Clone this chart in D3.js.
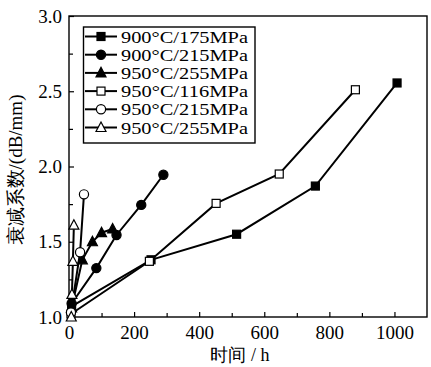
<!DOCTYPE html>
<html>
<head>
<meta charset="utf-8">
<script src="https://cdn.jsdelivr.net/npm/d3@7"></script>
<style>
  body { margin: 0; background: #fff; }
  svg { display: block; }
</style>
</head>
<body>
<svg width="431" height="367"></svg>
<script>
'use strict'

const SERIES = ['900°C/175MPa', '900°C/215MPa', '950°C/255MPa', '950°C/116MPa', '950°C/215MPa', '950°C/255MPa'];
const SHAPES = ['square', 'circle', 'triangle', 'square', 'circle', 'triangle'];
const FILLED = [true, true, true, false, false, false];

// [hours, attenuation] per series
const s900_175 = [[8, 1.07], [252, 1.38], [515, 1.55], [757, 1.87], [1008, 2.555]];
const s900_215 = [[8, 1.09], [84, 1.325], [146, 1.545], [222, 1.745], [290, 1.945]];
const s950_255 = [[8, 1.06], [41, 1.38], [72, 1.5], [100, 1.56], [134, 1.585]];
const s950_116 = [[6, 1.02], [247, 1.37], [452, 1.755], [646, 1.95], [880, 2.51]];
const s950_215 = [[6, 1.03], [34, 1.43], [46, 1.815]];
const s950_255o = [[7, 1.0], [9, 1.15], [12, 1.37], [15, 1.61]];
const DATA = [s900_175, s900_215, s950_255, s950_116, s950_215, s950_255o];

const X_TICKS = [0, 200, 400, 600, 800, 1000];
const X_MINOR = [100, 300, 500, 700, 900];
const Y_TICKS = [1.0, 1.5, 2.0, 2.5, 3.0];
const Y_MINOR = [1.25, 1.75, 2.25, 2.75];

const SERIF = '"Liberation Serif", "DejaVu Serif", serif';
const svg = d3.select('svg');
const M = { left: 69, right: 427, top: 16, bottom: 317 };

const x = d3.scaleLinear().domain([0, 1100]).range([M.left, M.right]);
const y = d3.scaleLinear().domain([1, 3]).range([M.bottom, M.top]);

// Frame
svg.append('rect')
  .attr('x', M.left).attr('y', M.top)
  .attr('width', M.right - M.left).attr('height', M.bottom - M.top)
  .attr('fill', 'none').attr('stroke', '#000').attr('stroke-width', 1.4);

// Axes with inward ticks
svg.append('g').attr('transform', `translate(0,${M.bottom})`)
  .call(d3.axisBottom(x).tickValues(X_TICKS).tickSize(-5).tickPadding(9).tickFormat(d3.format('d')));
svg.append('g').attr('transform', `translate(0,${M.bottom})`)
  .call(d3.axisBottom(x).tickValues(X_MINOR).tickSize(-4).tickFormat(''));
svg.append('g').attr('transform', `translate(${M.left},0)`)
  .call(d3.axisLeft(y).tickValues(Y_TICKS).tickSize(-5).tickPadding(7).tickFormat(d3.format('.1f')));
svg.append('g').attr('transform', `translate(${M.left},0)`)
  .call(d3.axisLeft(y).tickValues(Y_MINOR).tickSize(-4).tickFormat(''));

svg.selectAll('.domain').remove();
svg.selectAll('.tick line').attr('stroke', '#000').attr('stroke-width', 1.2);
svg.selectAll('.tick text')
  .style('font-family', SERIF).style('font-size', '19px').attr('fill', '#000');

// Axis titles
svg.append('text')
  .attr('x', 240).attr('y', 361)
  .attr('text-anchor', 'middle')
  .style('font-family', SERIF).style('font-size', '18px')
  .text('时间 / h');

svg.append('text')
  .attr('transform', 'translate(22,170) rotate(-90)')
  .attr('text-anchor', 'middle')
  .style('font-family', SERIF).style('font-size', '19px')
  .text('衰减系数/(dB/mm)');

// Marker drawing
function marker(g, shape, filled) {
  const fill = filled ? '#000' : '#fff';
  if (shape === 'square') {
    g.append('rect').attr('x', -4).attr('y', -4).attr('width', 8).attr('height', 8)
      .attr('fill', fill).attr('stroke', '#000').attr('stroke-width', 1.2);
  } else if (shape === 'circle') {
    g.append('circle').attr('r', 4.6)
      .attr('fill', fill).attr('stroke', '#000').attr('stroke-width', 1.2);
  } else {
    g.append('path').attr('d', 'M0,-5.5L5,4L-5,4Z')
      .attr('fill', fill).attr('stroke', '#000').attr('stroke-width', 1.2);
  }
}

const line = d3.line().x(d => x(d[0])).y(d => y(d[1]));

DATA.forEach(pts => {
  svg.append('path')
    .attr('d', line(pts))
    .attr('fill', 'none').attr('stroke', '#000').attr('stroke-width', 2);
});
DATA.forEach((pts, i) => {
  pts.forEach(p => {
    const g = svg.append('g').attr('transform', `translate(${x(p[0])},${y(p[1])})`);
    marker(g, SHAPES[i], FILLED[i]);
  });
});

// Legend
const legend = svg.append('g');
legend.append('rect')
  .attr('x', 83.5).attr('y', 27).attr('width', 171.5).attr('height', 116)
  .attr('fill', '#fff').attr('stroke', '#000').attr('stroke-width', 1.4);
SERIES.forEach((name, i) => {
  const ly = 36.5 + i * 18.2;
  legend.append('line')
    .attr('x1', 85).attr('x2', 117).attr('y1', ly).attr('y2', ly)
    .attr('stroke', '#000').attr('stroke-width', 2);
  const g = legend.append('g').attr('transform', `translate(101,${ly})`);
  marker(g, SHAPES[i], FILLED[i]);
  legend.append('text')
    .attr('x', 121).attr('y', ly + 6)
    .attr('textLength', 127).attr('lengthAdjust', 'spacingAndGlyphs')
    .style('font-family', SERIF).style('font-size', '17px')
    .text(name);
});
</script>
</body>
</html>
